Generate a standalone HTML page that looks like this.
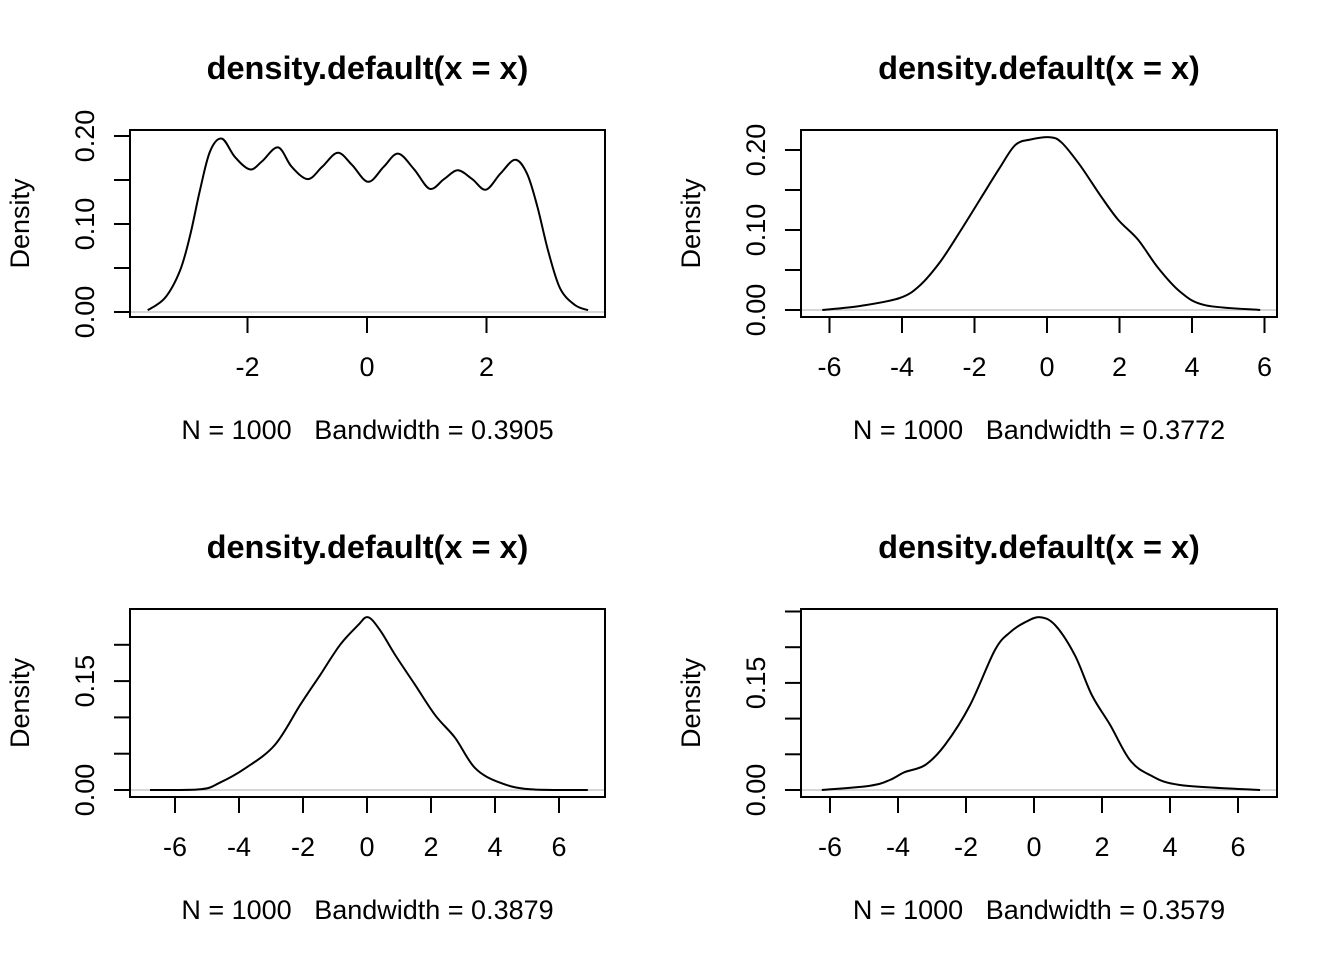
<!DOCTYPE html>
<html><head><meta charset="utf-8">
<style>
html,body{margin:0;padding:0;background:#fff;}
svg text{font-family:"Liberation Sans",Arial,sans-serif;}
</style></head>
<body>
<svg id="c" width="1344" height="960" xmlns="http://www.w3.org/2000/svg"></svg>
<script>
// Panel 1 data
const p1x = [-3.67,-3.38,-3.13,-2.96,-2.80,-2.63,-2.43,-2.21,-1.96,-1.76,-1.49,-1.26,-0.99,-0.75,-0.49,-0.25,0.02,0.28,0.52,0.79,1.05,1.29,1.52,1.76,1.99,2.23,2.48,2.68,2.85,3.03,3.23,3.48,3.70];
const p1y = [0.002,0.016,0.047,0.087,0.137,0.182,0.197,0.176,0.162,0.171,0.187,0.165,0.151,0.165,0.181,0.167,0.148,0.165,0.180,0.162,0.140,0.151,0.161,0.151,0.139,0.157,0.173,0.157,0.120,0.070,0.027,0.008,0.002];
// Panel 2 data
const p2x = [-6.2,-5.16,-4.06,-3.5,-2.95,-2.4,-1.85,-1.3,-0.88,-0.47,0.08,0.41,0.91,1.46,1.96,2.51,3.06,3.67,4.36,5.88];
const p2y = [0,0.005,0.015,0.031,0.06,0.098,0.138,0.178,0.206,0.213,0.216,0.209,0.181,0.144,0.113,0.088,0.053,0.023,0.006,0];
// Panel 3 data
const p3x = [-6.78,-5.2,-4.6,-3.8,-2.88,-2.09,-1.47,-0.84,-0.28,0.03,0.41,0.88,1.5,2.13,2.75,3.38,4.16,5.1,6.9];
const p3y = [0,0.001,0.01,0.03,0.062,0.117,0.158,0.2,0.227,0.238,0.22,0.186,0.145,0.103,0.072,0.03,0.01,0.001,0];
// Panel 4 data
const p4x = [-6.24,-4.82,-4.24,-3.8,-3.2,-2.62,-1.88,-1.15,-0.7,-0.26,0.18,0.62,1.2,1.7,2.24,2.82,3.41,4.29,6.65];
const p4y = [0,0.006,0.014,0.025,0.035,0.063,0.119,0.196,0.221,0.235,0.242,0.231,0.189,0.133,0.091,0.042,0.021,0.007,0];
// tick values
const t1x = [-2,0,2], t1y=[0,0.05,0.1,0.15,0.2], l1y=["0.00","","0.10","","0.20"];
const t2x = [-6,-4,-2,0,2,4,6], t2y=[0,0.05,0.1,0.15,0.2], l2y=["0.00","","0.10","","0.20"];
const t3x = [-6,-4,-2,0,2,4,6], t3y=[0,0.05,0.1,0.15,0.2], l3y=["0.00","","","0.15",""];
const t4x = [-6,-4,-2,0,2,4,6], t4y=[0,0.05,0.1,0.15,0.2,0.25], l4y=["0.00","","","0.15","",""];
const subs = ["N = 1000   Bandwidth = 0.3905","N = 1000   Bandwidth = 0.3772","N = 1000   Bandwidth = 0.3879","N = 1000   Bandwidth = 0.3579"];

const svg=document.getElementById('c');
const NS="http://www.w3.org/2000/svg";
function mk(t,a,p){const e=document.createElementNS(NS,t);for(const k in a)e.setAttribute(k,a[k]);(p||svg).appendChild(e);return e;}
function smooth(pts){
 let d='M'+pts[0][0].toFixed(1)+','+pts[0][1].toFixed(1);
 for(let i=0;i<pts.length-1;i++){
  const p0=pts[Math.max(0,i-1)],p1=pts[i],p2=pts[i+1],p3=pts[Math.min(pts.length-1,i+2)];
  const c1=[p1[0]+(p2[0]-p0[0])/6,p1[1]+(p2[1]-p0[1])/6];
  const c2=[p2[0]-(p3[0]-p1[0])/6,p2[1]-(p3[1]-p1[1])/6];
  d+='C'+c1.map(v=>v.toFixed(1)).join(',')+' '+c2.map(v=>v.toFixed(1)).join(',')+' '+p2.map(v=>v.toFixed(1)).join(',');
 }
 return d;
}

const panels=[
 {L:130,R:605,T:130,B:317,x0:367,xu:59.75,y0:312,yu:880,xs:p1x,ys:p1y,tx:t1x,ty:t1y,ly:l1y},
 {L:801,R:1277,T:130,B:317,x0:1047,xu:36.25,y0:310,yu:800,xs:p2x,ys:p2y,tx:t2x,ty:t2y,ly:l2y},
 {L:130,R:605,T:609,B:797,x0:367,xu:32,y0:790,yu:726,xs:p3x,ys:p3y,tx:t3x,ty:t3y,ly:l3y},
 {L:801,R:1277,T:609,B:797,x0:1034,xu:34,y0:790,yu:714,xs:p4x,ys:p4y,tx:t4x,ty:t4y,ly:l4y}
];
panels.forEach((p,i)=>{
 const g=mk('g',{});
 
 
 const X=v=>p.x0+v*p.xu, Y=v=>p.y0-v*p.yu;
 const cx=(p.L+p.R)/2, cy=(p.T+p.B)/2;
 const t=mk('text',{x:cx,y:p.T-51,'text-anchor':'middle','font-size':'32.5','font-weight':'bold'},g);
 t.textContent='density.default(x = x)';
 
 
 const z=mk('line',{x1:p.L,x2:p.R,y1:Y(0),y2:Y(0),stroke:'#bebebe','stroke-width':1.3},g);
 
 
 const b=mk('rect',{x:p.L,y:p.T,width:p.R-p.L,height:p.B-p.T,fill:'none',stroke:'#000','stroke-width':2},g);
 
 
 const pts=p.xs.map((v,k)=>[X(v),Y(p.ys[k])]);
 const c=mk('path',{d:smooth(pts),fill:'none',stroke:'#000','stroke-width':2,'stroke-linejoin':'round'},g);
 
 
 const xa=mk('g',{},g);
 
 
 mk('line',{x1:X(p.tx[0]),x2:X(p.tx[p.tx.length-1]),y1:p.B,y2:p.B,stroke:'#000','stroke-width':2},xa);
 p.tx.forEach(v=>{
  mk('line',{x1:X(v),x2:X(v),y1:p.B,y2:p.B+16,stroke:'#000','stroke-width':2},xa);
  const l=mk('text',{x:X(v),y:p.B+59,'text-anchor':'middle','font-size':'27'},xa);
  l.textContent=String(v);
  
  
 });
 const ya=mk('g',{},g);
 
 
 mk('line',{x1:p.L,x2:p.L,y1:Y(p.ty[0]),y2:Y(p.ty[p.ty.length-1]),stroke:'#000','stroke-width':2},ya);
 p.ty.forEach((v,k)=>{
  mk('line',{x1:p.L-16,x2:p.L,y1:Y(v),y2:Y(v),stroke:'#000','stroke-width':2},ya);
  if(p.ly[k]){
   const l=mk('text',{x:0,y:0,'text-anchor':'middle','font-size':'27',transform:'translate('+(p.L-36)+' '+Y(v)+') rotate(-90)'},ya);
   l.textContent=p.ly[k];
   
   
  }
 });
 const yl=mk('text',{x:0,y:0,'text-anchor':'middle','font-size':'27',transform:'translate('+(p.L-101)+' '+(cy)+') rotate(-90)'},g);
 yl.textContent='Density';
 
 
 const s=mk('text',{x:cx,y:p.B+122,'text-anchor':'middle','font-size':'27'},g);
 s.textContent=subs[i];
 s.setAttribute('style','white-space:pre');
 
 
});
</script>
</body></html>
